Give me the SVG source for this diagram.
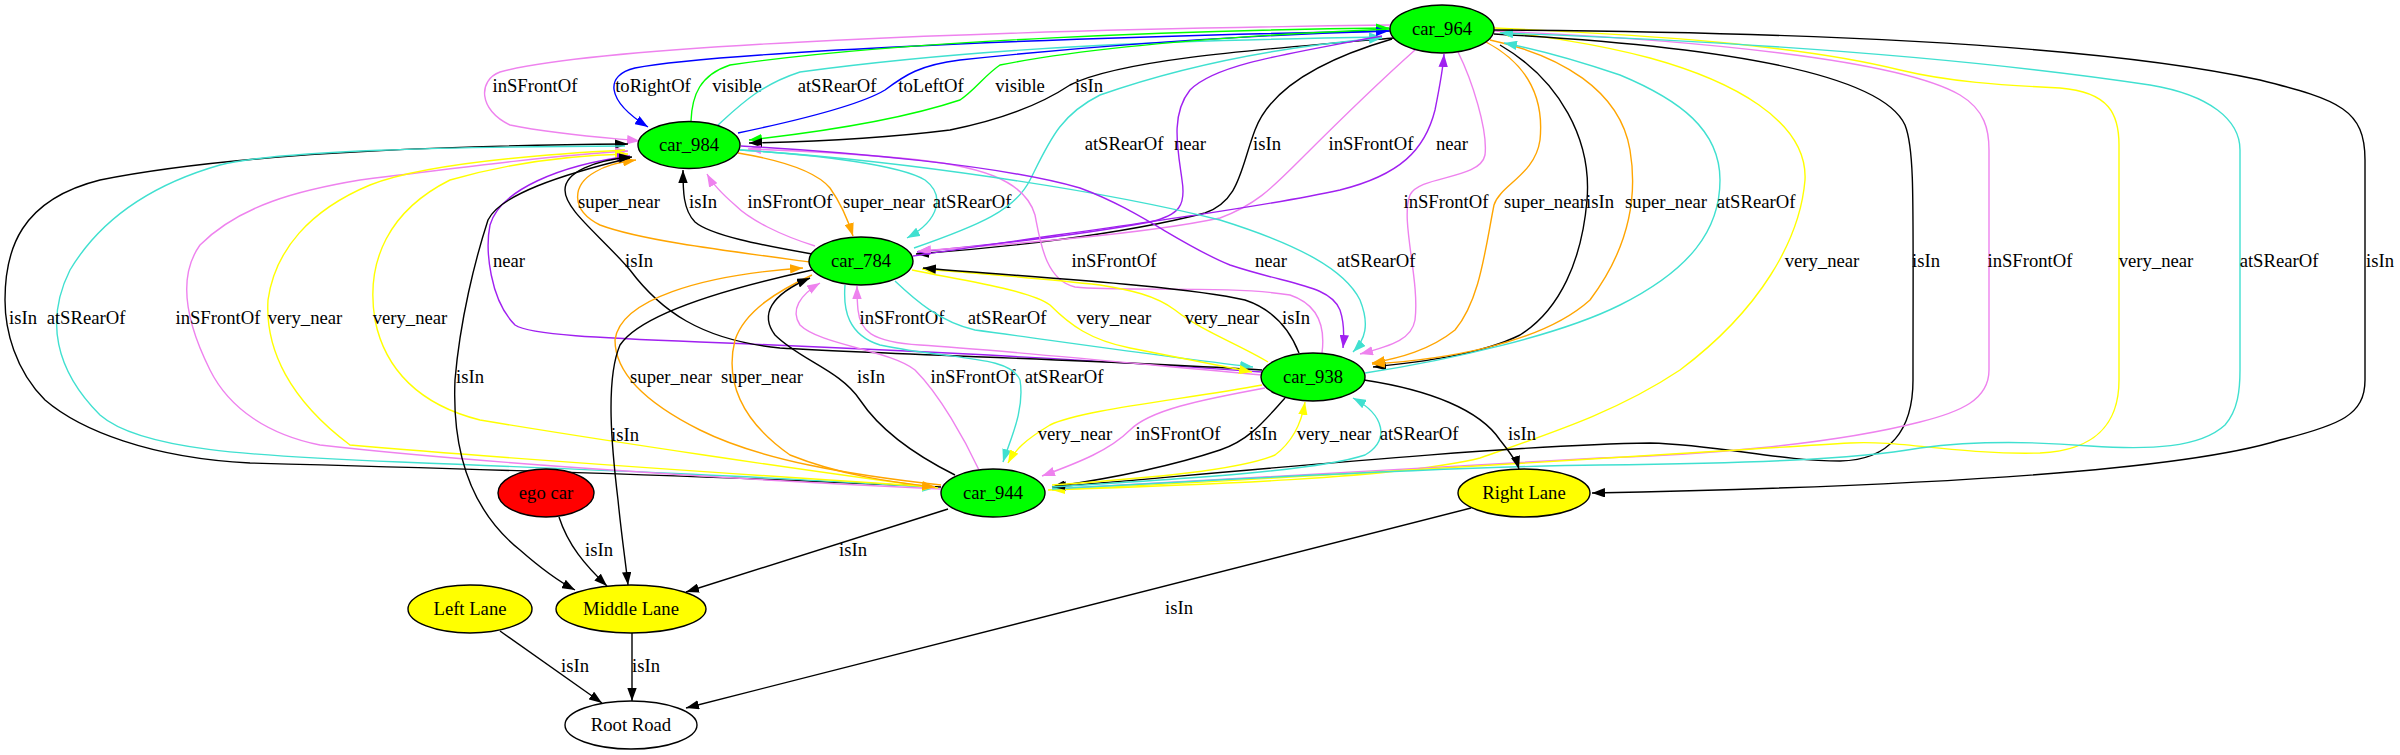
<svg xmlns="http://www.w3.org/2000/svg" width="2400" height="755" viewBox="0 0 2400 755" font-family="'Liberation Serif', 'Times New Roman', serif">
<style>
text{font-family:"Liberation Serif","Times New Roman",serif;font-size:18.67px;fill:#000;text-anchor:middle}
.e{fill:none;stroke-width:1.4}
.n{stroke:#000;stroke-width:1.4}
.k{stroke:#000;marker-end:url(#mk)}
.vi{stroke:#ee82ee;marker-end:url(#mvi)}
.bl{stroke:#0000ff;marker-end:url(#mbl)}
.gr{stroke:#00ff00;marker-end:url(#mgr)}
.tq{stroke:#40e0d0;marker-end:url(#mtq)}
.pu{stroke:#a020f0;marker-end:url(#mpu)}
.or{stroke:#ffa500;marker-end:url(#mor)}
.ye{stroke:#ffff00;marker-end:url(#mye)}
</style>
<defs>
<marker id="mk" viewBox="0 0 13 9.4" refX="13" refY="4.7" markerWidth="13" markerHeight="9.4" markerUnits="userSpaceOnUse" orient="auto"><path d="M0,0L13,4.7L0,9.4Z" fill="#000"/></marker>
<marker id="mvi" viewBox="0 0 13 9.4" refX="13" refY="4.7" markerWidth="13" markerHeight="9.4" markerUnits="userSpaceOnUse" orient="auto"><path d="M0,0L13,4.7L0,9.4Z" fill="#ee82ee"/></marker>
<marker id="mbl" viewBox="0 0 13 9.4" refX="13" refY="4.7" markerWidth="13" markerHeight="9.4" markerUnits="userSpaceOnUse" orient="auto"><path d="M0,0L13,4.7L0,9.4Z" fill="#0000ff"/></marker>
<marker id="mgr" viewBox="0 0 13 9.4" refX="13" refY="4.7" markerWidth="13" markerHeight="9.4" markerUnits="userSpaceOnUse" orient="auto"><path d="M0,0L13,4.7L0,9.4Z" fill="#00ff00"/></marker>
<marker id="mtq" viewBox="0 0 13 9.4" refX="13" refY="4.7" markerWidth="13" markerHeight="9.4" markerUnits="userSpaceOnUse" orient="auto"><path d="M0,0L13,4.7L0,9.4Z" fill="#40e0d0"/></marker>
<marker id="mpu" viewBox="0 0 13 9.4" refX="13" refY="4.7" markerWidth="13" markerHeight="9.4" markerUnits="userSpaceOnUse" orient="auto"><path d="M0,0L13,4.7L0,9.4Z" fill="#a020f0"/></marker>
<marker id="mor" viewBox="0 0 13 9.4" refX="13" refY="4.7" markerWidth="13" markerHeight="9.4" markerUnits="userSpaceOnUse" orient="auto"><path d="M0,0L13,4.7L0,9.4Z" fill="#ffa500"/></marker>
<marker id="mye" viewBox="0 0 13 9.4" refX="13" refY="4.7" markerWidth="13" markerHeight="9.4" markerUnits="userSpaceOnUse" orient="auto"><path d="M0,0L13,4.7L0,9.4Z" fill="#ffff00"/></marker>
</defs>
<rect width="2400" height="755" fill="#fff"/>
<g id="connectors">
<g><path class="e vi" d="M1390,25 C1000,30 600,45 500,72 C478,80 478,110 510,125 C560,135 610,138 640,141"/><text x="535" y="92">inSFrontOf</text></g>
<g><path class="e bl" d="M1390,31 C1000,38 700,55 635,68 C605,75 605,100 648,127"/><text x="653" y="92">toRightOf</text></g>
<g><path class="e gr" d="M691,121 C692,95 700,75 730,65 C900,40 1200,30 1389,28"/><text x="737" y="92">visible</text></g>
<g><path class="e tq" d="M718,125 C740,105 760,85 800,72 C1000,45 1200,40 1382,37"/><text x="837" y="92">atSRearOf</text></g>
<g><path class="e bl" d="M738,133 C800,120 860,105 885,90 C905,75 920,65 960,60 C1100,45 1250,35 1389,31"/><text x="931" y="92">toLeftOf</text></g>
<g><path class="e gr" d="M1390,29 C1250,35 1100,45 1000,65 C985,75 975,90 960,100 C900,120 820,132 749,140"/><text x="1020" y="92">visible</text></g>
<g><path class="e k" d="M1394,38 C1250,50 1120,60 1070,85 C1040,105 1000,120 950,130 C870,140 800,142 749,143"/><text x="1089" y="92">isIn</text></g>
<g><path class="e or" d="M810,262 C720,250 640,240 600,225 C570,210 572,185 595,172 C605,166 615,163 636,160"/><text x="619" y="208">super_near</text></g>
<g><path class="e k" d="M812,254 C760,245 710,235 695,222 C683,210 683,190 683,170"/><text x="703" y="208">isIn</text></g>
<g><path class="e vi" d="M815,246 C780,235 750,220 735,205 C720,192 712,183 707,174"/><text x="790" y="208">inSFrontOf</text></g>
<g><path class="e or" d="M738,153 C780,160 815,170 830,188 C842,205 848,220 853,236"/><text x="884" y="208">super_near</text></g>
<g><path class="e tq" d="M740,150 C820,155 900,165 925,180 C945,195 940,220 907,238"/><text x="972" y="208">atSRearOf</text></g>
<g><path class="e tq" d="M914,248 C980,225 1015,210 1030,180 C1050,140 1060,115 1100,95 C1200,60 1300,45 1382,38"/><text x="1124" y="150">atSRearOf</text></g>
<g><path class="e k" d="M1392,39 C1320,60 1270,90 1255,130 C1240,170 1240,200 1205,213 C1120,235 1000,248 916,254"/><text x="1267" y="150">isIn</text></g>
<g><path class="e pu" d="M1382,36 C1280,55 1215,65 1190,90 C1170,115 1178,150 1182,180 C1186,205 1180,215 1150,222 C1080,235 990,245 917,252"/><text x="1190" y="150">near</text></g>
<g><path class="e vi" d="M1415,50 C1370,90 1330,130 1300,160 C1270,190 1255,205 1220,218 C1140,235 1000,245 918,251"/><text x="1371" y="150">inSFrontOf</text></g>
<g><path class="e pu" d="M913,256 C1050,235 1250,210 1340,190 C1400,175 1425,150 1435,110 C1440,85 1443,70 1444,54"/><text x="1452" y="150">near</text></g>
<g><path class="e vi" d="M1458,52 C1472,80 1488,130 1485,155 C1480,180 1420,175 1410,195 C1400,220 1420,280 1415,320 C1412,338 1395,345 1360,354"/><text x="1446" y="208">inSFrontOf</text></g>
<g><path class="e or" d="M1486,42 C1520,60 1545,90 1540,140 C1535,175 1500,185 1494,205 C1485,250 1480,300 1455,330 C1430,350 1400,358 1372,363"/><text x="1545" y="208">super_near</text></g>
<g><path class="e k" d="M1500,45 C1560,80 1592,140 1587,200 C1582,260 1560,310 1520,335 C1480,355 1420,362 1373,367"/><text x="1600" y="208">isIn</text></g>
<g><path class="e or" d="M1490,40 C1560,55 1620,90 1630,150 C1640,210 1620,260 1590,300 C1540,345 1440,360 1372,364"/><text x="1666" y="208">super_near</text></g>
<g><path class="e tq" d="M1365,373 C1450,360 1560,335 1620,305 C1690,270 1720,230 1720,180 C1720,130 1680,100 1620,75 C1570,58 1530,48 1504,43"/><text x="1756" y="208">atSRearOf</text></g>
<g><path class="e ye" d="M1048,490 C1200,485 1400,478 1480,458 C1560,430 1620,410 1680,370 C1760,310 1800,240 1805,180 C1808,120 1730,80 1650,58 C1590,42 1530,35 1497,31"/><text x="1822" y="267">very_near</text></g>
<g><path class="e k" d="M1494,34 C1700,45 1880,70 1905,125 C1915,150 1913,200 1913,380 C1913,430 1890,460 1840,461 C1780,461 1720,445 1650,443 C1500,445 1200,475 1053,487"/><text x="1926" y="267">isIn</text></g>
<g><path class="e vi" d="M1494,31 C1700,40 1900,60 1960,95 C1985,110 1989,130 1989,150 L1989,370 C1989,400 1960,412 1920,422 C1830,445 1700,455 1600,458 C1400,470 1200,482 1052,489"/><text x="2030" y="267">inSFrontOf</text></g>
<g><path class="e ye" d="M1494,28 C1650,35 1800,45 1900,70 C1950,82 2000,85 2060,88 C2110,92 2119,115 2119,145 L2119,380 C2119,420 2100,450 2040,453 C1960,455 1900,440 1850,443 C1700,452 1300,478 1052,490"/><text x="2156" y="267">very_near</text></g>
<g><path class="e tq" d="M1052,489 C1300,475 1500,466 1600,465 C1750,463 1850,460 1920,448 C1980,440 2040,442 2090,446 C2150,450 2200,448 2225,425 C2238,410 2240,390 2240,370 L2240,150 C2240,120 2210,95 2150,85 C1950,55 1700,40 1500,33"/><text x="2279" y="267">atSRearOf</text></g>
<g><path class="e k" d="M1494,30 C1800,32 2100,45 2260,80 C2340,100 2365,110 2365,160 L2365,380 C2365,415 2340,425 2280,440 C2200,465 2000,485 1592,493"/><text x="2380" y="267">isIn</text></g>
<g><path class="e k" d="M941,487 C700,475 400,467 250,463 C150,458 80,430 45,400 C15,370 5,330 5,300 C5,250 20,200 100,180 C250,150 500,145 628,144"/><text x="23" y="324">isIn</text></g>
<g><path class="e tq" d="M625,146 C450,147 280,150 220,165 C150,185 100,220 70,270 C45,320 55,370 100,415 C140,450 250,456 400,462 C600,470 800,478 935,488"/><text x="86" y="324">atSRearOf</text></g>
<g><path class="e vi" d="M941,489 C700,478 450,460 320,445 C270,435 230,410 210,370 C190,330 175,280 200,245 C240,205 300,190 360,180 C480,165 560,155 628,151"/><text x="218" y="324">inSFrontOf</text></g>
<g><path class="e ye" d="M625,150 C530,155 420,165 370,185 C310,210 275,250 268,300 C265,350 290,400 350,445 C500,458 750,475 935,487"/><text x="305" y="324">very_near</text></g>
<g><path class="e ye" d="M938,488 C800,470 600,440 480,420 C420,405 385,370 375,320 C365,260 390,210 450,180 C520,160 580,155 628,154"/><text x="410" y="324">very_near</text></g>
<g><path class="e pu" d="M1262,372 C1100,360 900,350 700,342 C600,338 530,335 515,325 C490,300 485,250 490,225 C500,190 560,165 630,156"/><text x="509" y="267">near</text></g>
<g><path class="e k" d="M1262,370 C1100,360 900,355 780,348 C700,340 660,310 630,270 C600,235 565,210 565,190 C565,172 595,160 632,157"/><text x="639" y="267">isIn</text></g>
<g><path class="e vi" d="M1322,353 C1325,330 1320,305 1290,295 C1230,285 1120,292 1075,287 C1045,280 1040,240 1035,215 C1025,180 980,165 900,158 C830,152 780,150 748,149"/><text x="1114" y="267">inSFrontOf</text></g>
<g><path class="e tq" d="M740,150 C900,160 1100,190 1220,220 C1300,245 1345,270 1360,300 C1370,325 1365,340 1353,352"/><text x="1376" y="267">atSRearOf</text></g>
<g><path class="e pu" d="M741,146 C850,152 1000,165 1080,188 C1140,210 1180,245 1230,265 C1290,285 1330,285 1340,310 C1345,325 1344,338 1343,348"/><text x="1271" y="267">near</text></g>
<g><path class="e vi" d="M1262,375 C1150,365 1000,350 920,345 C870,342 860,330 858,310 C857,300 857,293 857,286"/><text x="902" y="324">inSFrontOf</text></g>
<g><path class="e tq" d="M895,281 C915,300 940,322 975,330 C1050,340 1150,355 1253,367"/><text x="1007" y="324">atSRearOf</text></g>
<g><path class="e ye" d="M912,270 C960,280 1030,290 1050,305 C1070,325 1090,340 1130,348 C1180,358 1220,366 1252,372"/><text x="1114" y="324">very_near</text></g>
<g><path class="e ye" d="M1268,362 C1240,345 1200,330 1175,310 C1155,295 1130,290 1100,285 C1040,278 960,272 922,269"/><text x="1222" y="324">very_near</text></g>
<g><path class="e k" d="M1299,353 C1290,330 1275,310 1245,300 C1180,285 1000,275 923,268"/><text x="1296" y="324">isIn</text></g>
<g><path class="e or" d="M941,485 C850,475 760,460 700,430 C640,400 615,370 615,340 C620,300 700,275 803,268"/><text x="671" y="383">super_near</text></g>
<g><path class="e or" d="M812,275 C780,290 745,310 735,340 C725,380 740,420 790,455 C840,475 890,482 935,487"/><text x="762" y="383">super_near</text></g>
<g><path class="e k" d="M630,158 C560,175 500,195 488,220 C475,260 460,320 455,380 C452,450 470,510 520,550 C545,572 560,582 575,590"/><text x="470" y="383">isIn</text></g>
<g><path class="e k" d="M812,270 C720,290 640,315 620,345 C605,380 612,450 618,500 C622,540 626,565 628,585"/><text x="625" y="441">isIn</text></g>
<g><path class="e k" d="M955,475 C915,455 880,430 860,400 C840,370 800,360 775,335 C760,315 770,295 810,278"/><text x="871" y="383">isIn</text></g>
<g><path class="e vi" d="M979,470 C965,440 940,395 915,370 C890,350 820,345 800,325 C790,310 800,295 820,283"/><text x="973" y="383">inSFrontOf</text></g>
<g><path class="e tq" d="M845,285 C843,310 848,335 880,345 C950,360 1010,355 1020,380 C1025,410 1010,440 1003,462"/><text x="1064" y="383">atSRearOf</text></g>
<g><path class="e ye" d="M1262,385 C1180,400 1080,410 1050,425 C1025,440 1015,450 1008,463"/><text x="1075" y="440">very_near</text></g>
<g><path class="e vi" d="M1265,388 C1200,400 1150,410 1130,430 C1110,450 1080,462 1042,476"/><text x="1178" y="440">inSFrontOf</text></g>
<g><path class="e k" d="M1285,398 C1265,420 1250,440 1220,450 C1160,470 1100,480 1052,487"/><text x="1263" y="440">isIn</text></g>
<g><path class="e ye" d="M1052,485 C1150,478 1240,470 1275,455 C1295,440 1302,420 1305,402"/><text x="1334" y="440">very_near</text></g>
<g><path class="e tq" d="M1052,487 C1200,478 1320,470 1365,455 C1390,440 1385,415 1353,398"/><text x="1419" y="440">atSRearOf</text></g>
<g><path class="e k" d="M1364,380 C1430,390 1480,410 1500,440 C1512,455 1517,462 1519,469"/><text x="1522" y="440">isIn</text></g>
<g><path class="e k" d="M948,509 L686,592"/><text x="853" y="556">isIn</text></g>
<g><path class="e k" d="M559,517 C568,545 585,565 607,586"/><text x="599" y="556">isIn</text></g>
<g><path class="e k" d="M500,631 L602,703"/><text x="575" y="672">isIn</text></g>
<g><path class="e k" d="M632,633 L632,701"/><text x="646" y="672">isIn</text></g>
<g><path class="e k" d="M1471,508 L686,708"/><text x="1179" y="614">isIn</text></g>
</g>
<g id="car_964"><ellipse class="n" cx="1442" cy="29" rx="52" ry="24" fill="#00ff00"/><text x="1442" y="35">car_964</text></g>
<g id="car_984"><ellipse class="n" cx="689" cy="145" rx="51" ry="23.5" fill="#00ff00"/><text x="689" y="151">car_984</text></g>
<g id="car_784"><ellipse class="n" cx="861" cy="261" rx="52" ry="24" fill="#00ff00"/><text x="861" y="267">car_784</text></g>
<g id="car_938"><ellipse class="n" cx="1313" cy="377" rx="52" ry="24" fill="#00ff00"/><text x="1313" y="383">car_938</text></g>
<g id="car_944"><ellipse class="n" cx="993" cy="493" rx="52" ry="24" fill="#00ff00"/><text x="993" y="499">car_944</text></g>
<g id="ego_car"><ellipse class="n" cx="546" cy="493" rx="48" ry="24" fill="#ff0000"/><text x="546" y="499">ego car</text></g>
<g id="right_lane"><ellipse class="n" cx="1524" cy="493" rx="66" ry="24" fill="#ffff00"/><text x="1524" y="499">Right Lane</text></g>
<g id="left_lane"><ellipse class="n" cx="470" cy="609" rx="62" ry="24" fill="#ffff00"/><text x="470" y="615">Left Lane</text></g>
<g id="middle_lane"><ellipse class="n" cx="631" cy="609" rx="75" ry="24" fill="#ffff00"/><text x="631" y="615">Middle Lane</text></g>
<g id="root_road"><ellipse class="n" cx="631" cy="725" rx="66" ry="24" fill="#ffffff"/><text x="631" y="731">Root Road</text></g>
</svg>
